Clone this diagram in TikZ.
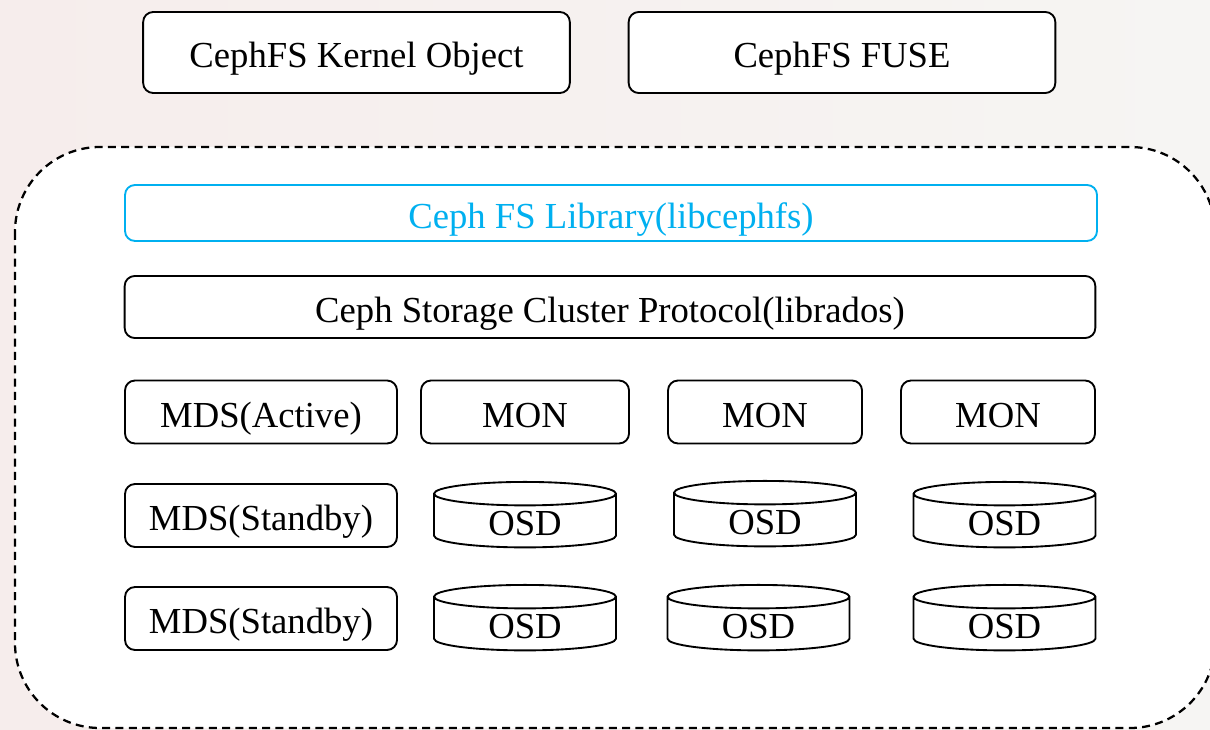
\documentclass[tikz,border=0pt]{standalone}
\usepackage{fontspec}
\setmainfont{Liberation Serif}
\usetikzlibrary{shapes.geometric}
\usepackage{xcolor}

\definecolor{libblue}{HTML}{00B0F0}
\definecolor{bgpink}{RGB}{246,237,236}
\definecolor{bggrey}{RGB}{246,245,243}

\begin{document}
\begin{tikzpicture}[
        x=0.75pt, y=-0.75pt,
        box/.style={rectangle, draw=black, line width=1.4pt, rounded corners=7.5pt, fill=white, align=center, inner sep=0pt, text height=26pt, text depth=3pt, font=\fontsize{27.5}{30}\selectfont},
        topbox/.style={box, minimum width=320pt, minimum height=60.75pt},
        layerbox/.style={box, minimum width=728pt, minimum height=46.5pt},
        mdsbox/.style={box, minimum width=204pt, minimum height=47.25pt},
        monbox/.style={box, minimum width=145.5pt, minimum height=47.25pt},
        osd/.style={cylinder, shape border rotate=90, aspect=0.32, draw=black, line width=1.4pt, fill=white, minimum width=136.5pt, minimum height=40pt, inner sep=0pt, text height=22pt, text depth=0pt, font=\fontsize{27.5}{30}\selectfont},
        cluster/.style={draw=black, line width=1.7pt, dash pattern=on 6pt off 4pt, rounded corners=63.75pt, fill=white}
    ]
    \clip (0,0) rectangle (1210,730);
    \fill[left color=bgpink, right color=bggrey] (0,0) rectangle (1210,730);

    % CLIENTES
    \node[topbox] (kernel) at (356.5,52.5) {CephFS Kernel Object};
    \node[topbox] (fuse) at (842,52.5) {CephFS FUSE};

    % CLUSTER
    \draw[cluster] (15,147) rectangle (1215,728);

    % LIBRERIAS
    \node[layerbox, draw=libblue, text=libblue, minimum height=42pt, minimum width=729pt] (libcephfs) at (611,213) {Ceph FS Library(libcephfs)};
    \node[layerbox] (librados) at (610,307) {Ceph Storage Cluster Protocol(librados)};

    % MDS Y MON
    \node[mdsbox] (mdsact) at (261,412) {MDS(Active)};
    \node[monbox, minimum width=156pt] (mon1) at (525,412) {MON};
    \node[monbox] (mon2) at (765,412) {MON};
    \node[monbox] (mon3) at (998,412) {MON};

    % MDS Y OSD
    \node[mdsbox] (mdsstb1) at (261,515.5) {MDS(Standby)};
    \node[osd] (osd11) at (525,521) {OSD};
    \node[osd] (osd12) at (765,520) {OSD};
    \node[osd] (osd13) at (1004.5,521) {OSD};

    \node[mdsbox] (mdsstb2) at (261,618.5) {MDS(Standby)};
    \node[osd] (osd21) at (525,624) {OSD};
    \node[osd] (osd22) at (758.5,624) {OSD};
    \node[osd] (osd23) at (1004.5,624) {OSD};
\end{tikzpicture}
\end{document}
